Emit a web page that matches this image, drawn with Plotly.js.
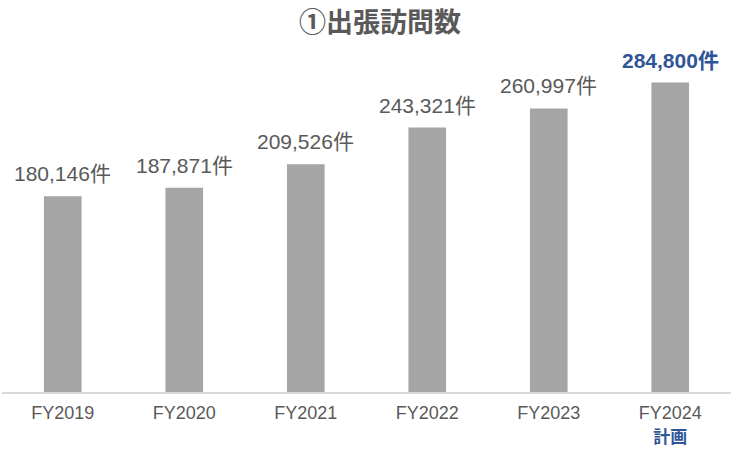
<!DOCTYPE html>
<html><head><meta charset="utf-8">
<script src="https://cdn.plot.ly/plotly-3.0.1.min.js"></script>
<style>body{margin:0;background:#fff}#c{width:731px;height:449px}</style>
</head><body><div id="c"></div>
<script>
const categories = ["FY2019","FY2020","FY2021","FY2022","FY2023","FY2024"];
const tickLabels = ["FY2019","FY2020","FY2021","FY2022","FY2023","FY2024<br><b><span style='color:#2F5597;font-size:17px'>計画</span></b>"];
const values = [180146,187871,209526,243321,260997,284800];
const labelText = ["180,146件","187,871件","209,526件","243,321件","260,997件","<b>284,800件</b>"];
const labelColors = ["#595959","#595959","#595959","#595959","#595959","#2F5597"];

const FONT = "Liberation Sans, Arial, 'Noto Sans CJK JP', sans-serif";
const annotations = categories.map((c,i)=>({
  x:c, y:values[i], xref:'x', yref:'y', text:labelText[i], showarrow:false,
  yanchor:'bottom', yshift:9, font:{size:21, color:labelColors[i], family:FONT}
}));

Plotly.newPlot('c',[{
  type:'bar', x:categories, y:values, marker:{color:'#A5A5A5'}, hoverinfo:'none'
}],{
  width:731, height:449,
  margin:{l:2,r:0,t:66,b:57},
  paper_bgcolor:'#fff', plot_bgcolor:'#fff',
  bargap:0.69,
  title:{text:'<b>①出張訪問数</b>', x:0.52, xanchor:'center', y:0.95, yanchor:'middle',
    font:{size:27, color:'#595959', family:"'Noto Sans CJK JP', sans-serif"}},
  xaxis:{tickvals:categories, ticktext:tickLabels, showline:true, linecolor:'#D9D9D9', linewidth:1.5,
    tickfont:{size:18, color:'#595959', family:FONT}, ticks:'', ticklabelstandoff:4, fixedrange:true},
  yaxis:{range:[0,300000], visible:false, showgrid:false, zeroline:false},
  annotations:annotations,
  showlegend:false
},{displayModeBar:false, staticPlot:true});
</script></body></html>
